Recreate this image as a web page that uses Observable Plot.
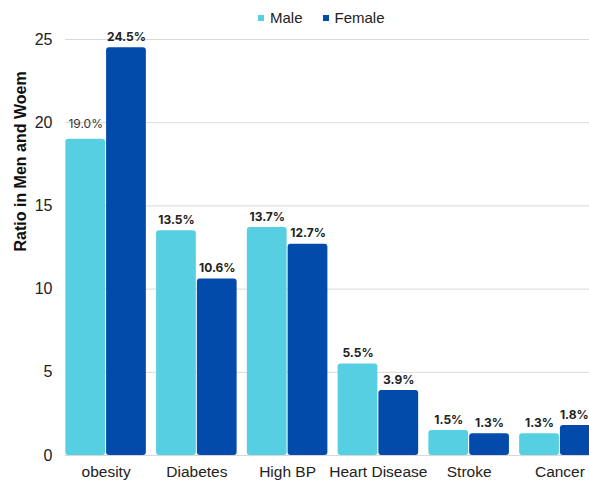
<!DOCTYPE html>
<html>
<head>
<meta charset="utf-8">
<script src="https://cdn.jsdelivr.net/npm/d3@7"></script>
<script src="https://cdn.jsdelivr.net/npm/@observablehq/plot@0.6"></script>
<style>
  html, body { margin: 0; padding: 0; background: #fff; }
  #chart { position: relative; width: 589px; height: 481px; overflow: hidden; font-family: "Liberation Sans", Arial, sans-serif; }
  #chart svg { position: absolute; left: 0; top: 0; }
  #legend { position: absolute; left: 258px; top: 9px; display: flex; align-items: center; font-size: 15px; line-height: 18px; color: #222; z-index: 2; }
  #legend .item { display: flex; align-items: center; margin-right: 20px; }
  #legend .sw { width: 6px; height: 6px; margin-right: 6px; }
</style>
</head>
<body>
<div id="chart"><div id="legend"></div></div>
<script>
// Health conditions, percentage of men and women affected
const categories = ["obesity", "Diabetes", "High BP", "Heart Disease", "Stroke", "Cancer"];
const sexes = ["Male", "Female"];
const maleValues = [19.0, 13.5, 13.7, 5.5, 1.5, 1.3];
const femaleValues = [24.5, 10.6, 12.7, 3.9, 1.3, 1.8];
const yTicks = [0, 5, 10, 15, 20, 25];
const yTitle = "Ratio in Men and Woem";
const colors = ["#57cfe2", "#024bab"];

const rows = categories.flatMap((c, i) => [
  {category: c, sex: "Male", value: maleValues[i]},
  {category: c, sex: "Female", value: femaleValues[i]}
]);

const H = 481, MT = 39, MB = 26;
const yScale = {domain: [0, 25], ticks: yTicks};
const font = "Liberation Sans, Arial, sans-serif";
const labelFont = "Inter, Lato, sans-serif";
const svgStyle = {background: "transparent", fontFamily: font, maxWidth: "none", overflow: "visible"};

// Background: gridlines, y ticks and the axis title
const back = Plot.plot({
  width: 589, height: H,
  marginTop: MT, marginBottom: MB, marginLeft: 65, marginRight: 0,
  style: svgStyle,
  y: yScale,
  marks: [
    Plot.ruleY(yTicks, {stroke: "#d9d9d9", strokeWidth: 1}),
    Plot.axisY(yTicks, {tickSize: 0, tickPadding: 13, fontSize: 16, fill: "#222", label: null}),
    Plot.text([yTitle], {frameAnchor: "left", dx: -45, dy: 4, rotate: -90, fontSize: 16, fontWeight: "bold", fill: "#111", fontFamily: font})
  ]
});

// Foreground: grouped bars, value labels and category axis
const labelFmt = d => d.value.toFixed(1) + "%";
const isSoft = d => d.category === "obesity" && d.sex === "Male";
const isEdge = d => d.category === "Cancer" && d.sex === "Female";
const labelStyle = {fx: "category", x: "sex", y: "value", text: labelFmt, lineAnchor: "bottom",
  fontSize: 12, fill: "#222", fontFamily: labelFont};
const front = Plot.plot({
  width: 608, height: H,
  marginTop: MT, marginBottom: MB, marginLeft: 57, marginRight: 0,
  style: svgStyle,
  y: {...yScale, axis: null},
  fx: {domain: categories, paddingInner: 0.1125, paddingOuter: 0.0915, round: false, label: null},
  x: {domain: sexes, paddingInner: 0.025, paddingOuter: 0, round: false, axis: null},
  color: {domain: sexes, range: colors},
  marks: [
    Plot.barY(rows, {fx: "category", x: "sex", y: "value", fill: "sex", rx: 3}),
    Plot.text(rows.filter(d => !isSoft(d) && !isEdge(d)), {...labelStyle, dy: -7, fontWeight: 700}),
    Plot.text(rows.filter(isEdge), {...labelStyle, dy: -7, dx: -6, fontWeight: 700}),
    Plot.text(rows.filter(isSoft), {...labelStyle, dy: -11, fontWeight: 400, fill: "#333"}),
    Plot.axisFx({anchor: "bottom", tickSize: 0, tickPadding: 10, fontSize: 15.5, fill: "#222", label: null})
  ]
});

const chart = document.getElementById("chart");
chart.appendChild(back);
chart.appendChild(front);

const legend = document.getElementById("legend");
sexes.forEach((s, i) => {
  const item = document.createElement("div");
  item.className = "item";
  const sw = document.createElement("span");
  sw.className = "sw";
  sw.style.background = colors[i];
  const t = document.createElement("span");
  t.textContent = s;
  item.appendChild(sw);
  item.appendChild(t);
  legend.appendChild(item);
});
</script>
</body>
</html>
